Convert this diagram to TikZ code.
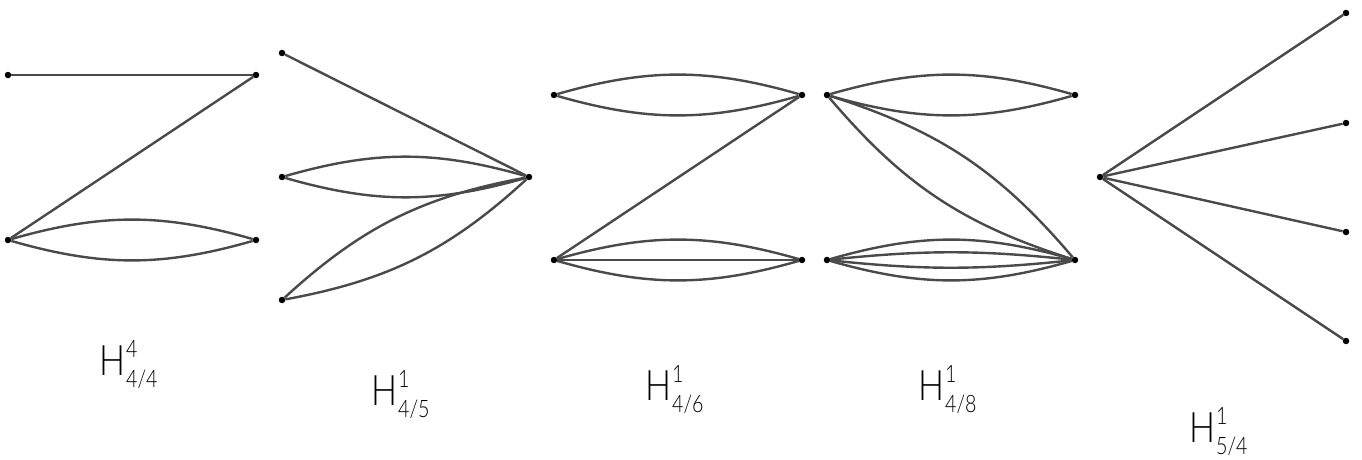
\documentclass[tikz,border=0pt]{standalone}
\usepackage{fontspec}
\newfontfamily\labfont{Lato Light}[FakeStretch=0.82]
\definecolor{edgegray}{HTML}{4A4A4A}
\newcommand\Hlab[2]{{\labfont\fontsize{42}{42}\selectfont H\kern1pt\rlap{\raisebox{18pt}{\fontsize{24}{24}\selectfont #1}}\raisebox{-12pt}{\fontsize{24}{24}\selectfont #2}}}
\begin{document}
\begin{tikzpicture}[x=1pt,y=-1pt,
  vtx/.style={circle,fill=black,inner sep=0pt,minimum size=6.5pt},
  ed/.style={draw=edgegray,line width=2.4pt},
  lab/.style={anchor=base west,inner sep=0pt}]
\useasboundingbox (0,0) rectangle (1362,460);
% graph 1
\node[vtx] (a1) at (8,75) {};
\node[vtx] (a2) at (256,75) {};
\node[vtx] (a3) at (8,240) {};
\node[vtx] (a4) at (256,240) {};
\draw[ed] (a1) -- (a2);
\draw[ed] (a2) -- (a3);
\draw[ed] (a3) to[bend left=16] (a4);
\draw[ed] (a3) to[bend right=16] (a4);
% graph 2
\node[vtx] (b1) at (282,53) {};
\node[vtx] (b2) at (282,177) {};
\node[vtx] (b3) at (282,300) {};
\node[vtx] (b4) at (529,177) {};
\draw[ed] (b1) -- (b4);
\draw[ed] (b2) to[bend left=16] (b4);
\draw[ed] (b2) to[bend right=16] (b4);
\draw[ed] (b3) to[bend left=16] (b4);
\draw[ed] (b3) to[bend right=16] (b4);
% graph 3
\node[vtx] (c1) at (554,95) {};
\node[vtx] (c2) at (802,95) {};
\node[vtx] (c3) at (554,260) {};
\node[vtx] (c4) at (802,260) {};
\draw[ed] (c1) to[bend left=16] (c2);
\draw[ed] (c1) to[bend right=16] (c2);
\draw[ed] (c2) -- (c3);
\draw[ed] (c3) to[bend left=16] (c4);
\draw[ed] (c3) -- (c4);
\draw[ed] (c3) to[bend right=16] (c4);
% graph 4
\node[vtx] (d1) at (827,95) {};
\node[vtx] (d2) at (1075,95) {};
\node[vtx] (d3) at (827,260) {};
\node[vtx] (d4) at (1075,260) {};
\draw[ed] (d1) to[bend left=16] (d2);
\draw[ed] (d1) to[bend right=16] (d2);
\draw[ed] (d1) to[bend left=16] (d4);
\draw[ed] (d1) to[bend right=16] (d4);
\draw[ed] (d3) to[bend left=16] (d4);
\draw[ed] (d3) to[bend left=6] (d4);
\draw[ed] (d3) to[bend right=6] (d4);
\draw[ed] (d3) to[bend right=16] (d4);
% graph 5
\node[vtx] (e0) at (1100,177) {};
\node[vtx] (e1) at (1346,13) {};
\node[vtx] (e2) at (1346,123) {};
\node[vtx] (e3) at (1346,232) {};
\node[vtx] (e4) at (1346,341) {};
\foreach \i in {1,...,4} \draw[ed] (e0) -- (e\i);
% labels
\node[lab] (l1) at (99,375) {\Hlab{4}{4/4}};
\node[lab] (l2) at (371,405) {\Hlab{1}{4/5}};
\node[lab] (l3) at (645,400) {\Hlab{1}{4/6}};
\node[lab] (l4) at (918,400) {\Hlab{1}{4/8}};
\node[lab] (l5) at (1189,442) {\Hlab{1}{5/4}};
\end{tikzpicture}
\end{document}
